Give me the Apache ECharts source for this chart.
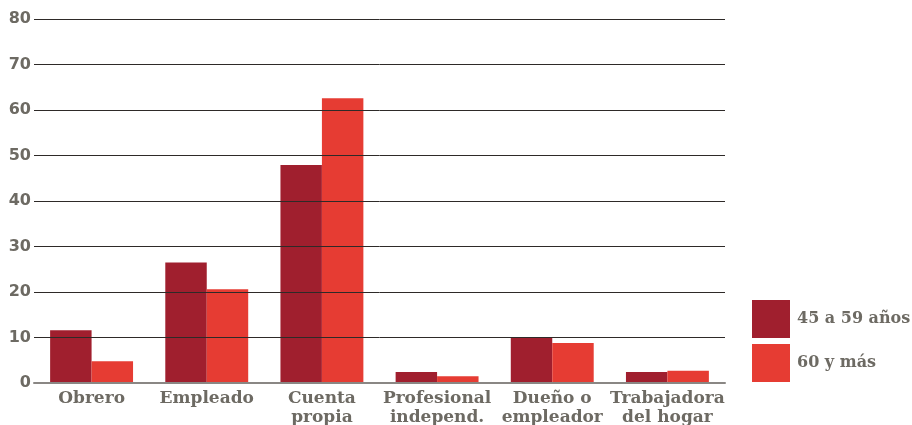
<!DOCTYPE html>
<html>
<head>
<meta charset="utf-8">
<script src="https://cdn.jsdelivr.net/npm/echarts@6/dist/echarts.min.js"></script>
<style>
  html, body { margin: 0; padding: 0; background: #fff; }
  #chart { width: 912px; height: 425px; }
</style>
</head>
<body>
<div id="chart"></div>
<script>
// categorias de ocupacion
const categories = ['Obrero', 'Empleado', 'Cuenta\npropia', 'Profesional\nindepend.', 'Dueño o\nempleador', 'Trabajadora\ndel hogar']
const seriesNames = ['45 a 59 años', '60 y más']
const edad45a59 = [11.6, 26.5, 47.9, 2.4, 10.0, 2.4]
const edad60mas = [4.8, 20.6, 62.6, 1.5, 8.8, 2.7]
const yTicks = [0, 80, 10]

const gris = '#6d6a63'
const myChart = echarts.init(document.getElementById('chart'))
myChart.setOption({
  animation: false,
  grid: {
    left: 34,
    right: 187,
    top: 19,
    bottom: 42,
    outerBoundsMode: 'none'
  },
  legend: {
    orient: 'vertical',
    left: 752,
    top: 300,
    padding: 0,
    itemWidth: 38,
    itemHeight: 38,
    itemGap: 6,
    icon: 'rect',
    data: seriesNames,
    textStyle: {
      color: gris,
      fontFamily: 'DejaVu Serif',
      fontWeight: 'bold',
      fontSize: 16,
      padding: [0, 0, 0, 2]
    }
  },
  xAxis: {
    type: 'category',
    data: categories,
    z: 5,
    axisTick: { show: false },
    axisLine: { lineStyle: { color: '#8a8784', width: 2 } },
    axisLabel: {
      color: gris,
      fontFamily: 'DejaVu Serif',
      fontWeight: 'bold',
      fontSize: 17,
      lineHeight: 19,
      margin: 6,
      interval: 0
    }
  },
  yAxis: {
    type: 'value',
    min: yTicks[0],
    max: yTicks[1],
    interval: yTicks[2],
    z: 5,
    axisLine: { show: false },
    axisTick: { show: false },
    splitLine: { lineStyle: { color: '#2e2a28', width: 1 } },
    axisLabel: {
      color: gris,
      fontFamily: 'DejaVu Sans',
      fontWeight: 'bold',
      fontSize: 16,
      margin: 3
    }
  },
  series: [
    {
      name: seriesNames[0],
      type: 'bar',
      data: edad45a59,
      barGap: 0,
      barCategoryGap: '28%',
      itemStyle: { color: '#a01f2e' }
    },
    {
      name: seriesNames[1],
      type: 'bar',
      data: edad60mas,
      itemStyle: { color: '#e63c33' }
    }
  ]
})
</script>
</body>
</html>
